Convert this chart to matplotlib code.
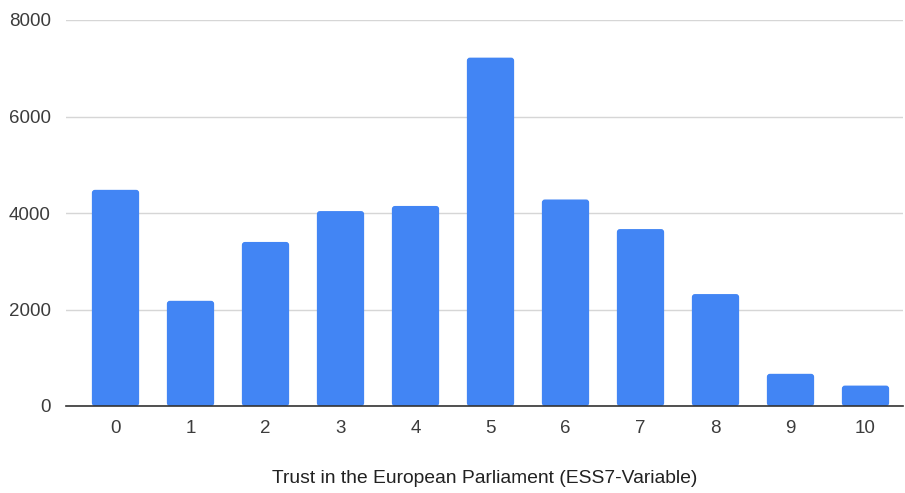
import matplotlib
matplotlib.use("Agg")
import matplotlib.pyplot as plt
from matplotlib.patches import FancyBboxPatch

categories = ["0", "1", "2", "3", "4", "5", "6", "7", "8", "9", "10"]
counts = [4480, 2180, 3400, 4040, 4146, 7220, 4280, 3667, 2320, 667, 423]
y_ticks = [0, 2000, 4000, 6000, 8000]
x_title = "Trust in the European Parliament (ESS7-Variable)"

plt.rcParams["font.family"] = ["Liberation Sans", "DejaVu Sans"]

fig = plt.figure(figsize=(9.05, 4.93), dpi=100)
ax_left, ax_right, ax_top, ax_bottom = 66, 903, 20, 406
ax = fig.add_axes([ax_left / 905, 1 - ax_bottom / 493,
                   (ax_right - ax_left) / 905, (ax_bottom - ax_top) / 493])

xlim = (-0.66, 10.5)
ylim = (0, 8000)
ax.set_xlim(*xlim)
ax.set_ylim(*ylim)

bar_color = "#4285F4"
xs = list(range(len(categories)))
bars = ax.bar(xs, counts, width=0.63, color=bar_color, zorder=3)

# data-units-per-pixel ratio so the corner rounding stays circular
x_per_px = (xlim[1] - xlim[0]) / (ax_right - ax_left)
y_per_px = (ylim[1] - ylim[0]) / (ax_bottom - ax_top)
aspect = y_per_px / x_per_px

# replace each bar with one that has softly rounded corners
for b in bars:
    b.set_visible(False)
    p = FancyBboxPatch((b.get_x(), 0), b.get_width(), b.get_height(),
                       boxstyle=f"round,pad=0,rounding_size={3 * x_per_px}",
                       mutation_aspect=aspect,
                       facecolor=bar_color, edgecolor="none", zorder=3)
    ax.add_patch(p)

ax.set_yticks(y_ticks)
ax.set_xticks(xs)
ax.set_xticklabels(categories)

ax.grid(axis="y", color="#d6d6d6", linewidth=1.0, zorder=0)
for s in ["top", "right", "left"]:
    ax.spines[s].set_visible(False)
ax.spines["bottom"].set_color("#333333")
ax.spines["bottom"].set_linewidth(1.2)
ax.spines["bottom"].set_zorder(4)

ax.tick_params(axis="both", length=0, labelsize=13.5, labelcolor="#3c3c3c")
ax.tick_params(axis="y", pad=11)
ax.tick_params(axis="x", pad=10)

ax.set_xlabel(x_title, fontsize=13.9, color="#222222", labelpad=24)

fig.savefig("out.png", dpi=100, facecolor="white")
